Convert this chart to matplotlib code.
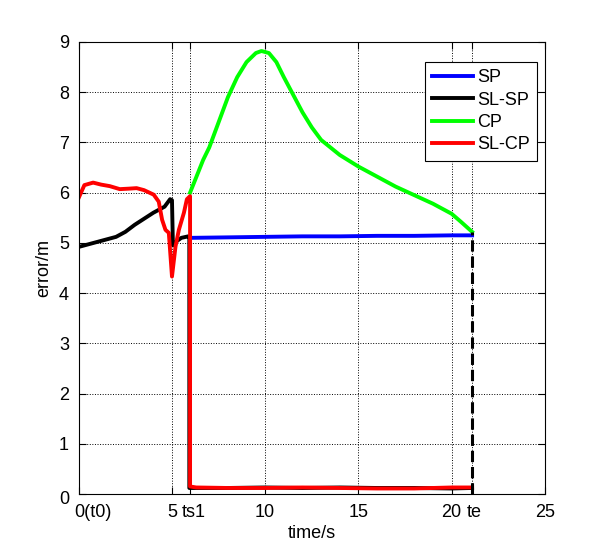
import matplotlib.pyplot as plt
from matplotlib.transforms import ScaledTranslation

plt.rcParams['font.family'] = ['Liberation Sans', 'DejaVu Sans']

ts1 = 5.95
te = 21.1

# SP (blue)
t_sp = [5.97, 8, 10, 12, 14, 16, 18, 20, 21.1]
e_sp = [5.10, 5.11, 5.12, 5.13, 5.13, 5.14, 5.14, 5.15, 5.15]

# SL-SP (black)
t_slsp = [0, 0.5, 1, 1.5, 2, 2.5, 3, 3.5, 4, 4.3, 4.6, 4.9, 5.0, 5.05, 5.24, 5.5, 5.87, 5.93, 5.93,
          8, 10, 12, 14, 16, 18, 20, 21.1]
e_slsp = [4.92, 4.97, 5.02, 5.07, 5.12, 5.22, 5.36, 5.48, 5.6, 5.66, 5.72, 5.87, 5.85, 4.95, 5.03,
          5.1, 5.13, 5.12, 0.12, 0.12, 0.13, 0.12, 0.13, 0.12, 0.12, 0.11, 0.12]

# CP (green)
t_cp = [5.97, 6.67, 7, 7.5, 8, 8.5, 9, 9.5, 9.8, 10.2, 10.6, 11, 11.5, 12, 12.5, 13, 14, 15, 16,
        17, 18, 19, 20, 20.5, 21.1]
e_cp = [6.0, 6.65, 6.9, 7.4, 7.9, 8.3, 8.6, 8.78, 8.82, 8.78, 8.6, 8.3, 7.95, 7.6, 7.3, 7.05, 6.75,
        6.52, 6.32, 6.12, 5.95, 5.78, 5.58, 5.42, 5.22]

# SL-CP (red)
t_slcp = [0, 0.3, 0.77, 1.2, 1.66, 2.2, 2.7, 3.1, 3.5, 4.02, 4.29, 4.47, 4.65, 4.83, 5.0, 5.19,
          5.37, 5.64, 5.8, 5.97, 5.97, 6.3, 8, 10, 12, 14, 16, 18, 20, 21.1]
e_slcp = [5.9, 6.15, 6.2, 6.16, 6.13, 6.07, 6.08, 6.09, 6.05, 5.96, 5.82, 5.46, 5.26, 5.2, 4.33,
          4.93, 5.26, 5.6, 5.87, 5.93, 0.15, 0.13, 0.12, 0.12, 0.13, 0.12, 0.11, 0.11, 0.13, 0.13]

xticks = [0, 5, ts1, 10, 15, 20, te, 25]
xticklabels = ['0(t0)', '5', 'ts1', '10', '15', '20', 'te', '25']

fig = plt.figure(figsize=(6.06, 5.56), dpi=100)
ax = fig.add_axes([0.130, 0.1115, 0.769, 0.813])

ax.plot(t_sp, e_sp, color='#0000ff', lw=2.8, label='SP')
ax.plot(t_slsp, e_slsp, color='black', lw=2.8, label='SL-SP')
ax.plot(t_cp, e_cp, color='#00ff00', lw=2.8, label='CP')
ax.plot(t_slcp, e_slcp, color='#ff0000', lw=2.8, label='SL-CP')
ax.plot([te, te], [0, e_cp[-1]], color='black', lw=2.2, ls='--')

ax.set_xlim(0, 25)
ax.set_ylim(0, 9)
ax.set_xticks(xticks)
ax.set_xticklabels(xticklabels)
ax.set_yticks(range(10))
ax.tick_params(direction='in', top=True, right=True, labelsize=13, length=5)
ax.tick_params(axis='x', pad=7)
ax.tick_params(axis='y', pad=7)
ax.grid(True, color='black', ls=':', lw=0.7)
ax.set_xlabel('time/s', fontsize=13, labelpad=3)
ax.set_ylabel('error/m', fontsize=13, labelpad=5)

# label offsets seen in the reference
shifts = {0: 14, 2: 4, 6: 2}
for i, dx in shifts.items():
    lbl = ax.get_xticklabels()[i]
    lbl.set_transform(lbl.get_transform() + ScaledTranslation(dx / 100, 0, fig.dpi_scale_trans))
lbl0 = ax.get_yticklabels()[0]
lbl0.set_transform(lbl0.get_transform() + ScaledTranslation(0, -3 / 100, fig.dpi_scale_trans))

leg = ax.legend(loc='upper right', bbox_to_anchor=(0.983, 0.956), borderaxespad=0,
                fontsize=13, fancybox=False, framealpha=1, edgecolor='black',
                handlelength=2.3, labelspacing=0.3, handletextpad=0.2, borderpad=0.4)
leg.get_frame().set_linewidth(0.8)

fig.savefig('out.png', dpi=100)
